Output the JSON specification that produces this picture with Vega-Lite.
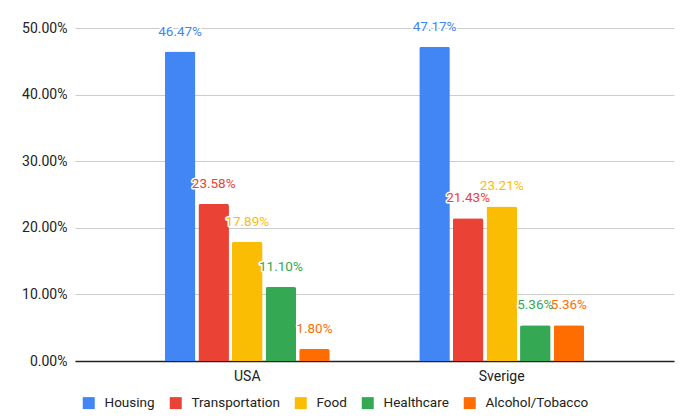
{
  "$schema": "https://vega.github.io/schema/vega-lite/v6.json",
  "width": 599,
  "height": 333,
  "autosize": {"type": "none"},
  "padding": {"left": 75, "top": 28, "right": 16, "bottom": 58},
  "background": "white",
  "config": {
    "view": {"stroke": null},
    "font": "Roboto",
    "axis": {"labelFont": "Roboto", "labelColor": "#222222"},
    "legend": {"labelFont": "Roboto"}
  },
  "data": {
    "values": [
      {"country": "USA", "category": "Housing", "value": 0.4647},
      {"country": "USA", "category": "Transportation", "value": 0.2358},
      {"country": "USA", "category": "Food", "value": 0.1789},
      {"country": "USA", "category": "Healthcare", "value": 0.1110},
      {"country": "USA", "category": "Alcohol/Tobacco", "value": 0.0180},
      {"country": "Sverige", "category": "Housing", "value": 0.4717},
      {"country": "Sverige", "category": "Transportation", "value": 0.2143},
      {"country": "Sverige", "category": "Food", "value": 0.2321},
      {"country": "Sverige", "category": "Healthcare", "value": 0.0536},
      {"country": "Sverige", "category": "Alcohol/Tobacco", "value": 0.0536}
    ]
  },
  "encoding": {
    "x": {
      "field": "country", "type": "nominal", "sort": ["USA", "Sverige"],
      "scale": {"paddingInner": 0.34, "paddingOuter": 0.347},
      "axis": {
        "title": null, "labelAngle": 0, "ticks": false, "labelFontSize": 14,
        "labelPadding": 8, "domainColor": "#222222", "domainWidth": 1.5, "grid": false
      }
    },
    "xOffset": {
      "field": "category", "type": "nominal",
      "sort": ["Housing", "Transportation", "Food", "Healthcare", "Alcohol/Tobacco"],
      "scale": {"paddingInner": 0.09, "paddingOuter": 0.045}
    },
    "y": {
      "field": "value", "type": "quantitative",
      "scale": {"domain": [0, 0.5], "nice": false},
      "axis": {
        "title": null, "format": ".2%", "values": [0, 0.1, 0.2, 0.3, 0.4, 0.5],
        "ticks": false, "domain": false, "gridColor": "#cccccc", "labelFontSize": 14, "labelPadding": 8
      }
    }
  },
  "layer": [
    {
      "mark": {"type": "bar", "cornerRadiusEnd": 2},
      "encoding": {
        "color": {
          "field": "category", "type": "nominal",
          "sort": ["Housing", "Transportation", "Food", "Healthcare", "Alcohol/Tobacco"],
          "scale": {
            "domain": ["Housing", "Transportation", "Food", "Healthcare", "Alcohol/Tobacco"],
            "range": ["#4285F4", "#EA4335", "#FBBC04", "#34A853", "#FF6D01"]
          },
          "legend": {
            "title": null, "orient": "none", "direction": "horizontal",
            "legendX": 7, "legendY": 368, "symbolType": "square", "symbolSize": 144,
            "symbolStrokeWidth": 0, "labelFontSize": 13.5, "labelOffset": 9,
            "columnPadding": 14, "labelColor": "#222222"
          }
        }
      }
    },
    {
      "mark": {"type": "text", "baseline": "middle", "dy": -20, "fontSize": 13.5, "stroke": "white", "strokeWidth": 3, "strokeJoin": "round", "fill": "white"},
      "encoding": {
        "text": {"field": "value", "type": "quantitative", "format": ".2%"}
      }
    },
    {
      "mark": {"type": "text", "baseline": "middle", "dy": -20, "fontSize": 13.5},
      "encoding": {
        "text": {"field": "value", "type": "quantitative", "format": ".2%"},
        "color": {"field": "category", "type": "nominal"}
      }
    }
  ]
}
